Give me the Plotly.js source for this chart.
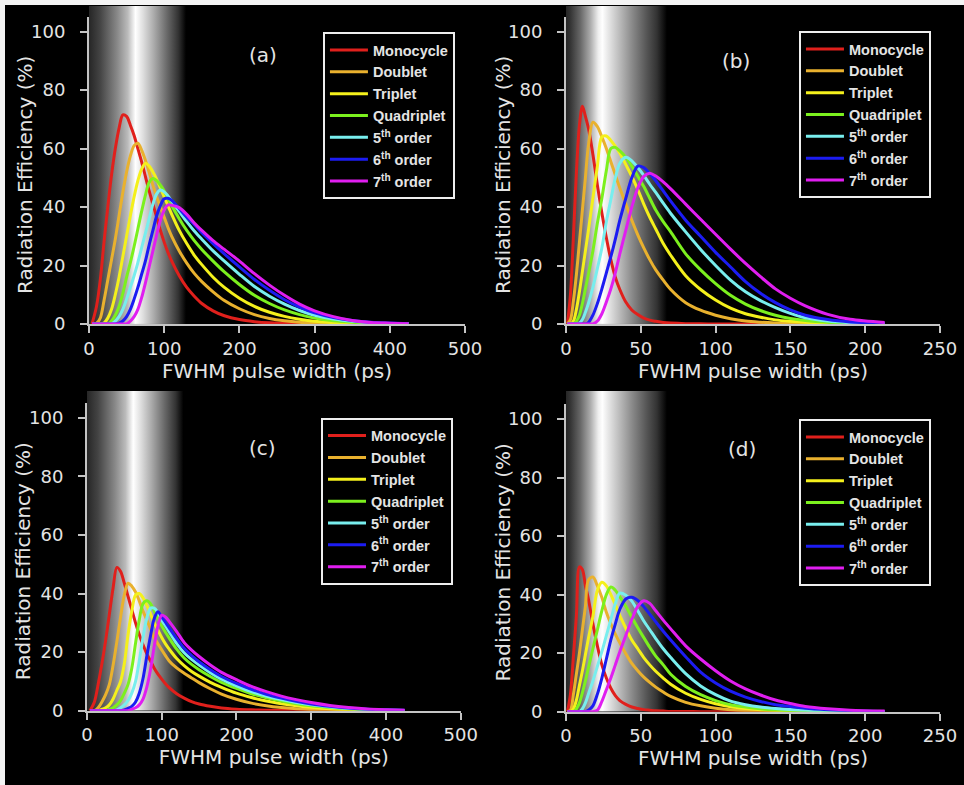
<!DOCTYPE html>
<html><head><meta charset="utf-8">
<script src="https://cdn.plot.ly/plotly-3.0.1.min.js"></script>
<style>html,body{margin:0;padding:0;background:#000;} #chart{width:964px;height:785px;}</style>
</head><body><div id="chart"></div>
<script>
// ---------- DATA ----------
const seriesNames = ['Monocycle','Doublet','Triplet','Quadriplet','5<sup>th</sup> order','6<sup>th</sup> order','7<sup>th</sup> order'];
const panelLabels = ['(a)','(b)','(c)','(d)'];
const xTitle = 'FWHM pulse width (ps)';
const yTitle = 'Radiation Efficiency (%)';

// FWHM pulse width grid (ps) for panels (a) and (c)
const X_WIDE = [4,10,15,20,25,30,35,40,45,50,55,60,65,70,75,80,85,90,95,100,105,110,120,130,140,150,165,180,200,220,240,260,280,300,325,350,375,400,425];
// FWHM pulse width grid (ps) for panels (b) and (d)
const X_NARROW = [1,3,5,7,9,11,13,15,18,21,24,27,30,33,36,40,44,48,52,56,60,65,70,80,90,100,110,120,130,140,150,160,175,190,213];

// Panel (a) radiation efficiency (%)
const a_mono = [0,6,15,28,40,51,60,67,71.5,71, 68,64.5,60,55.5,50.5,45.5,41,36.5,32,28, 24.5,21.5,16.5,12.5,9.5,7,4.5,2.8,1.5,0.8, 0.4,0.25,0.15,0.1,0.05,0.05,0,0,0];
const a_doub = [0,0.2,2,8,15,22,29,37,45,52, 57.5,61,61.8,59.5,56,52,47.5,43.5,40,36.5, 33,30,25,20.8,17.3,14.5,11,8,5.2,3.2, 1.9,1.1,0.6,0.35,0.2,0.1,0.05,0.05,0];
const a_trip = [0,0,0,0.3,2,5,10,16,23,30, 37,43.5,49,53,55,54,52,49.5,46.5,43.5, 40.5,37.5,32,27.5,23.5,20.3,16,12.5,8.8,6, 4,2.6,1.6,0.9,0.5,0.25,0.1,0.05,0];
const a_quad = [0,0,0,0,0,1,3,6,10.5,16, 21,26.5,32.5,38.5,44,48.5,49.8,49,47.5,45.5, 43,40.5,36,32,28.5,25.5,21.5,17.8,13.5,9.8, 7,4.8,3.2,2,1.1,0.6,0.3,0.15,0.05];
const a_5th  = [0,0,0,0,0,0,1,2.5,5,8.5, 12.5,16.5,21,26,31,36,41,44.5,45.8,45.2, 43.8,42,38.5,35,31.8,29,25,21.5,17,12.8, 9.5,6.8,4.6,3,1.7,0.9,0.45,0.2,0.1];
const a_6th  = [0,0,0,0,0,0,0,0.3,1,2.5, 5,8.5,12.5,17,21.5,27,32,37,40.5,42.8, 43,42.3,39.5,36.5,34,31.2,27.5,24,19.5,15.2, 11.5,8.3,5.8,3.8,2.2,1.2,0.6,0.3,0.1];
const a_7th  = [0,0,0,0,0,0,0,0,0,0, 1,2.5,5,9,14,19.5,25,30.5,35.5,39, 40.7,40.6,39.8,37.5,34.5,32,28.5,25.5,21.5,17.2, 13.3,9.8,6.8,4.5,2.5,1.2,0.5,0.25,0.1];

// Panel (b)
const b_mono = [0,10,30,52,68,74.5,71,67,58,47.5, 38,29.5,22,16,11.8,7.5,4.8,3.2,2,1.3, 0.9,0.5,0.3,0.1,0.05,0,0,0,0,0, 0,0,0,0,0];
const b_doub = [0,1.5,8,17,28,39,50,61,69,67.5, 64,60,55.5,51,46.5,41,35.5,30.5,26,22, 18.5,15,11.8,7.3,4.7,3,1.8,1,0.6,0.35, 0.2,0.1,0.05,0,0];
const b_trip = [0,0,1,5,11,18,25,32,43,54, 64,64.3,62.8,60.8,58.4,54.5,50.5,46,41,36.5, 32.5,27.5,23.5,16.5,11.8,8.2,5.4,3.5,2.3,1.4, 0.9,0.55,0.3,0.15,0.05];
const b_quad = [0,0,0,1,3,7,12,17,25,34.5, 43,52.5,60,60.4,59.2,57,54,50.5,47,43, 39,35,31.5,24,18.5,13.8,9.8,6.8,4.6,3, 1.9,1.2,0.6,0.3,0.1];
const b_5th  = [0,0,0,0,0.3,1.5,4,7,12.5,19, 26,35,42.5,50,55,57,55.8,53.5,50.8,47.8, 45,41.3,37.8,31.5,25.5,20,15,11,8,5.6, 3.6,2.1,1,0.45,0.1];
const b_6th  = [0,0,0,0,0,0,0,0.5,3,7, 12,17.5,23,29,35.5,43,50,54,53.5,51.5, 49,45.5,42,35.5,30,24.5,19.5,14.5,10.5,7.3, 4.8,3,1.5,0.7,0.2];
const b_7th  = [0,0,0,0,0,0,0,0,0,1, 3.5,7.5,12,17.5,24,32,40,46.5,50.5,51.6, 50.6,48.6,46.2,41,35.8,30.7,25.6,20.7,16.2,12, 8.8,6.2,3.3,1.6,0.5];

// Panel (c)
const c_mono = [0,3,9,16,24,33,42,48.9,47.5,43.5, 39,34.5,30,26,22.5,19.5,17,14.5,12.5,10.8, 9.2,7.9,5.8,4.3,3.1,2.3,1.5,0.9,0.5,0.3, 0.2,0.1,0.05,0.05,0,0,0,0,0];
const c_doub = [0,0,1,3,5.5,9,15.5,23.5,32,39.5, 43.5,42.5,40.5,37.5,34,31,28,25,22.8,20.8, 18.8,17,14.6,12.8,11.2,9.6,7.5,5.7,3.9,2.6, 1.7,1.1,0.7,0.45,0.25,0.15,0.1,0.05,0.05];
const c_trip = [0,0,0,0.5,1,2,4,7,10,16, 26,34,39.5,40,38.5,36,33,30,27.5,25, 22.8,21,17.8,15.4,13.4,11.8,9.7,8,6,4.5, 3.3,2.4,1.7,1.2,0.7,0.4,0.2,0.1,0.05];
const c_quad = [0,0,0,0,0,0.5,1,2,3.5,6, 9,14.5,23,31,36.5,37.5,36.5,34,31.5,29, 26.8,24.8,21,18,15.8,14,11.7,9.7,7.6,5.8, 4.4,3.3,2.4,1.7,1.1,0.65,0.35,0.2,0.1];
const c_5th  = [0,0,0,0,0,0,0,0.3,1,2, 3.5,6,10,17,25,31.5,35,35,33.5,31, 29,27,23,19.8,17.5,15.6,13,10.8,8.5,6.5, 5,3.8,2.8,2,1.3,0.8,0.45,0.25,0.1];
const c_6th  = [0,0,0,0,0,0,0,0,0,0.3, 0.8,1.5,3,6,11,18.5,25.5,31.5,33.8,32, 30.2,28.3,24.6,21.3,18.8,16.7,14,11.7,9.3,7.3, 5.6,4.3,3.2,2.3,1.5,0.9,0.5,0.3,0.15];
const c_7th  = [0,0,0,0,0,0,0,0,0,0, 0,0.5,1,2,4,8,14,22,29,32.6, 32,30.5,27,23.3,20.7,18.5,15.6,13.1,10.6,8.3, 6.5,5,3.8,2.8,1.8,1.1,0.6,0.35,0.2];

// Panel (d)
const d_mono = [0,6,19,33,49.5,48.5,43,38.5,30,22.5, 16,11.5,8,5.5,3.8,2.5,1.6,1.1,0.7,0.5, 0.3,0.2,0.1,0.05,0,0,0,0,0,0, 0,0,0,0,0];
const d_doub = [0,0.5,6,13,20,28,36,45,46,43, 39,34,30,26.5,23.5,19.8,16.5,14,11.8,10, 8.4,6.7,5.2,3.2,2,1.2,0.7,0.4,0.25,0.15, 0.1,0.05,0,0,0];
const d_trip = [0,0,1,4,9,14,19.5,25,32.5,41.5, 44.2,43,40,36.5,32.8,28.5,24.5,21.5,18.5,16, 13.8,11.5,9.4,6.3,4.2,2.7,1.7,1.1,0.7,0.45, 0.3,0.2,0.1,0.05,0];
const d_quad = [0,0,0,1,3,6.5,10.5,15,21.5,28, 34.5,40,42.6,41.5,39.3,36,32.3,28.7,25.3,22, 19,16,12.8,8.6,5.8,3.8,2.4,1.6,1,0.65, 0.4,0.25,0.15,0.08,0.03];
const d_5th  = [0,0,0,0,0,1,3,6,10.5,15.5, 20.5,26,31.5,37,40.5,39.8,37.8,34.5,31,28, 25,21.5,18.5,13,8.8,5.8,3.6,2.4,1.6,1.1, 0.75,0.5,0.3,0.15,0.05];
const d_6th  = [0,0,0,0,0,0,0,0.5,2,6, 11.5,18,24.5,30,35,38.5,39.1,38,35.9,33.3, 30.7,27.5,24.5,18.8,13.5,9.8,7,5,3.5,2.4, 1.8,1.2,0.7,0.35,0.1];
const d_7th  = [0,0,0,0,0,0,0,0,0,0.5, 3.5,7.5,11.5,16,20.5,26,31.5,36,37.9,37, 34.5,31.3,28.3,22.5,18,14,10.5,7.8,5.7,4, 2.8,1.8,1,0.5,0.2];

// ---------- STYLE ----------
const seriesColors = ['#e0201c','#e9b12e','#f4f01c','#7cf01e','#78eeee','#1c1cf2','#e01ef0'];

const panels = [
  {x: X_WIDE,   ys: [a_mono,a_doub,a_trip,a_quad,a_5th,a_6th,a_7th], xa:'x',  ya:'y',  lg:'legend'},
  {x: X_NARROW, ys: [b_mono,b_doub,b_trip,b_quad,b_5th,b_6th,b_7th], xa:'x2', ya:'y2', lg:'legend2'},
  {x: X_WIDE,   ys: [c_mono,c_doub,c_trip,c_quad,c_5th,c_6th,c_7th], xa:'x3', ya:'y3', lg:'legend3'},
  {x: X_NARROW, ys: [d_mono,d_doub,d_trip,d_quad,d_5th,d_6th,d_7th], xa:'x4', ya:'y4', lg:'legend4'}
];

const traces = [];
panels.forEach(p => {
  p.ys.forEach((y, j) => {
    traces.push({
      type:'scatter', mode:'lines', x:p.x, y:y,
      xaxis:p.xa, yaxis:p.ya, legend:p.lg,
      name:seriesNames[j], showlegend:true, hoverinfo:'skip',
      line:{color:seriesColors[j], width:3, shape:'spline', smoothing:0.9}
    });
  });
});

const AX_COLOR = '#c4c4c4';
const TXT = '#e4e4e4';
function xAxis(domain, range, anchor, dtick){
  return {domain, range, anchor, dtick, tick0:0, showgrid:false, zeroline:false,
    showline:true, linecolor:AX_COLOR, linewidth:2, ticks:'outside', ticklen:7, tickwidth:2, tickcolor:AX_COLOR,
    tickfont:{family:'DejaVu Sans', size:18, color:TXT}, ticklabelstandoff:0,
    title:{text:xTitle, font:{family:'DejaVu Sans', size:20, color:TXT}, standoff:5},
    fixedrange:true};
}
function yAxis(domain, anchor){
  return {domain, range:[0,105], anchor, dtick:20, tick0:0, showgrid:false, zeroline:false,
    showline:true, linecolor:AX_COLOR, linewidth:2, ticks:'outside', ticklen:7, tickwidth:2, tickcolor:AX_COLOR,
    tickfont:{family:'DejaVu Sans', size:18, color:TXT}, ticklabelstandoff:11,
    fixedrange:true};
}
function legendAt(x, y){
  return {x, y, xanchor:'left', yanchor:'top', xref:'paper', yref:'paper',
    bgcolor:'#000000', bordercolor:'#eeeeee', borderwidth:2,
    font:{family:'Liberation Sans', size:14.5, color:TXT, weight:'bold'},
    itemwidth:38, traceorder:'normal'};
}

const annFont = {family:'DejaVu Sans', size:20, color:TXT};
const layout = {
  width:964, height:785, margin:{l:0,r:0,t:0,b:0},
  paper_bgcolor:'#000000', plot_bgcolor:'rgba(0,0,0,0)',
  font:{family:'DejaVu Sans', color:TXT},
  showlegend:true, hovermode:false,
  xaxis:  xAxis([0.0923,0.4824],[0,500],'y', 100),
  yaxis:  yAxis([0.5873,0.9783],'x'),
  xaxis2: xAxis([0.5871,0.9751],[0,250],'y2', 50),
  yaxis2: yAxis([0.5873,0.9783],'x2'),
  xaxis3: xAxis([0.0902,0.4779],[0,500],'y3', 100),
  yaxis3: yAxis([0.0946,0.4866],'x3'),
  xaxis4: xAxis([0.5871,0.9751],[0,250],'y4', 50),
  yaxis4: yAxis([0.0934,0.4848],'x4'),
  legend:  legendAt(0.335, 0.9592),
  legend2: legendAt(0.8288, 0.9605),
  legend3: legendAt(0.333, 0.4679),
  legend4: legendAt(0.8288, 0.4662),
  annotations: [
    {xref:'x',  yref:'y',  x:231,   y:92,   text:panelLabels[0], showarrow:false, font:annFont},
    {xref:'x2', yref:'y2', x:113.6, y:90,   text:panelLabels[1], showarrow:false, font:annFont},
    {xref:'x3', yref:'y3', x:235,   y:89.6, text:panelLabels[2], showarrow:false, font:annFont},
    {xref:'x4', yref:'y4', x:117.6, y:89.7, text:panelLabels[3], showarrow:false, font:annFont},
    {xref:'paper', yref:'y',  x:25/964,  y:51, text:yTitle, textangle:-90, xanchor:'center', yanchor:'middle', showarrow:false, font:annFont},
    {xref:'paper', yref:'y2', x:503/964, y:51, text:yTitle, textangle:-90, xanchor:'center', yanchor:'middle', showarrow:false, font:annFont},
    {xref:'paper', yref:'y3', x:23/964,  y:51, text:yTitle, textangle:-90, xanchor:'center', yanchor:'middle', showarrow:false, font:annFont},
    {xref:'paper', yref:'y4', x:503/964, y:51, text:yTitle, textangle:-90, xanchor:'center', yanchor:'middle', showarrow:false, font:annFont}
  ],
  shapes: [
    {type:'rect', xref:'paper', yref:'paper', x0:0, x1:5/964, y0:0, y1:1, fillcolor:'#f4f4f4', line:{width:0}, layer:'above'},
    {type:'rect', xref:'paper', yref:'paper', x0:0, x1:1, y0:(785-5)/785, y1:1, fillcolor:'#f4f4f4', line:{width:0}, layer:'above'}
  ],
  images: []
};

// Gradient bands (decoration behind curves)
const wideStops = [[0,'#262626'],[0.115,'#444444'],[0.29,'#888888'],[0.4,'#bbbbbb'],[0.48,'#ffffff'],[0.56,'#dddddd'],[0.67,'#aaaaaa'],[0.81,'#666666'],[0.92,'#333333'],[1,'#000000']];
const narrowStops = [[0,'#262626'],[0.04,'#333333'],[0.14,'#666666'],[0.24,'#aaaaaa'],[0.32,'#eeeeee'],[0.36,'#ffffff'],[0.4,'#eeeeee'],[0.53,'#bbbbbb'],[0.66,'#888888'],[0.8,'#555555'],[0.9,'#333333'],[1,'#000000']];
function bandURI(stops){
  const s = stops.map(([o,c]) => '<stop offset="'+o+'" stop-color="'+c+'"/>').join('');
  const svg = '<svg xmlns="http://www.w3.org/2000/svg" width="200" height="200" viewBox="0 0 200 200" preserveAspectRatio="none"><defs><linearGradient id="g" x1="0" x2="1" y1="0" y2="0">'+s+'</linearGradient></defs><rect x="0" y="0" width="200" height="200" fill="url(#g)"/></svg>';
  return 'data:image/svg+xml;base64,' + btoa(svg);
}
const bands = [
  {xa:'xaxis',  ya:'yaxis',  to:129,  top:(785-6)/785,   stops:wideStops},
  {xa:'xaxis2', ya:'yaxis2', to:67.5, top:(785-6)/785,   stops:narrowStops},
  {xa:'xaxis3', ya:'yaxis3', to:129,  top:(785-391)/785, stops:wideStops},
  {xa:'xaxis4', ya:'yaxis4', to:67.5, top:(785-391)/785, stops:narrowStops}
];
bands.forEach(b => {
  const xa = layout[b.xa], ya = layout[b.ya];
  const span = xa.domain[1]-xa.domain[0];
  const w = (b.to - xa.range[0])/(xa.range[1]-xa.range[0]) * span;
  layout.images.push({source:bandURI(b.stops), xref:'paper', yref:'paper',
    x:xa.domain[0], y:b.top, sizex:w, sizey:b.top-ya.domain[0],
    xanchor:'left', yanchor:'top', sizing:'stretch', layer:'below'});
});

Plotly.newPlot('chart', traces, layout, {staticPlot:true, displayModeBar:false});
</script>
</body></html>
